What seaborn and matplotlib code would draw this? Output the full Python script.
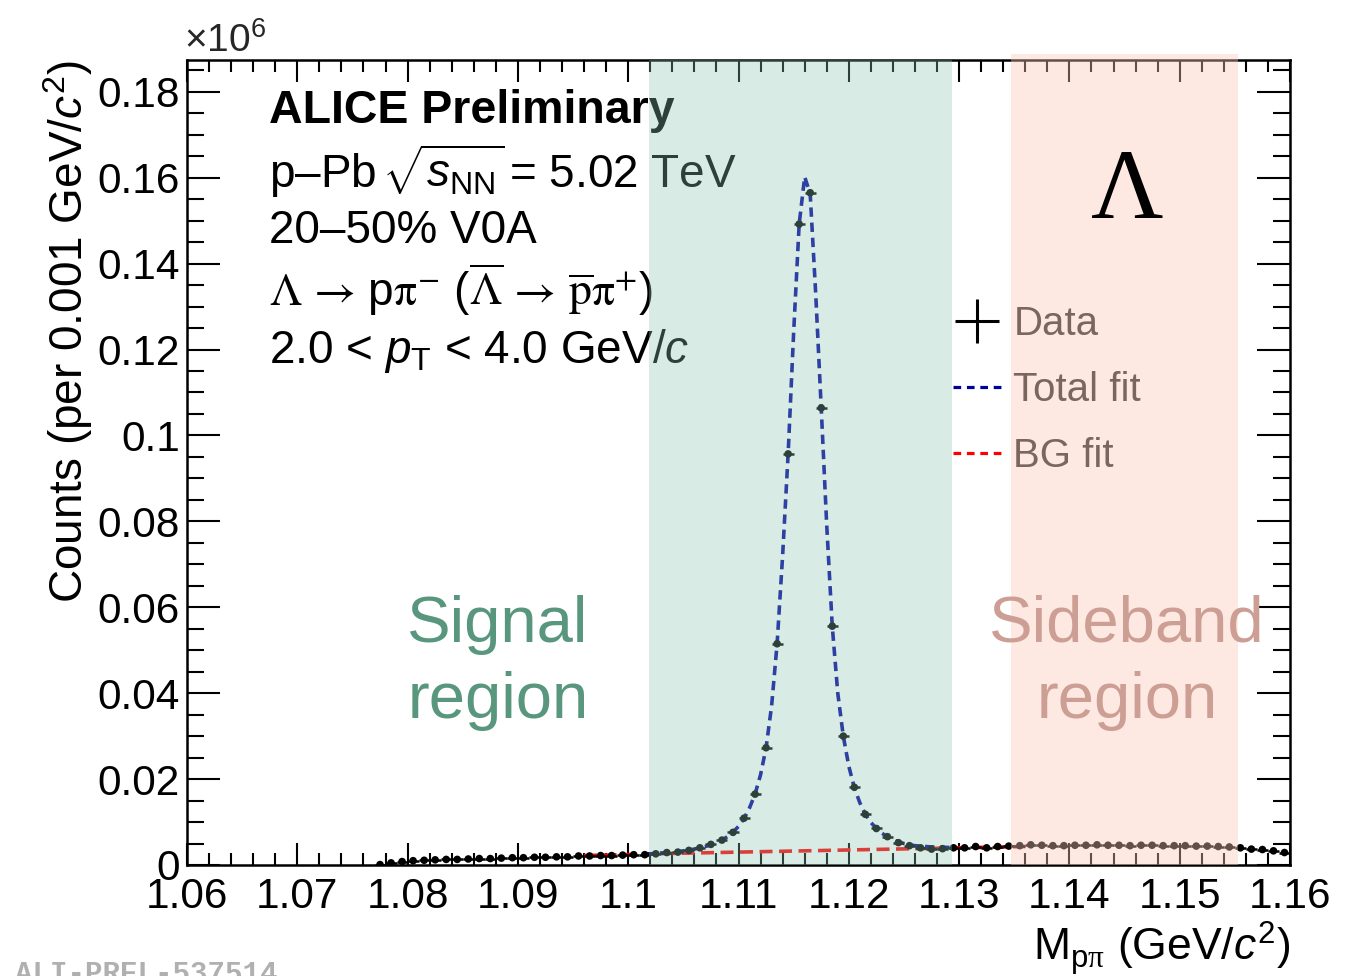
import numpy as np
import pandas as pd
import matplotlib
matplotlib.use("Agg")
import matplotlib.pyplot as plt
import seaborn as sns
from matplotlib.lines import Line2D
from matplotlib.ticker import MultipleLocator, FuncFormatter

# ---------------- data (counts in units of 10^6 per 0.001 GeV/c^2) ----------------
first_bin_center = 1.0775
bin_width = 0.001
counts = [
    0.0001, 0.0005, 0.0008, 0.0010, 0.0011, 0.0012, 0.0013, 0.0013, 0.0014, 0.0015,
    0.0015, 0.0016, 0.0017, 0.0017, 0.0018, 0.0018, 0.0019, 0.0019, 0.0021, 0.0021,
    0.0022, 0.0022, 0.0023, 0.0024, 0.0024, 0.0026, 0.0029, 0.0030, 0.0034, 0.0040,
    0.0048, 0.0058, 0.0076, 0.0109, 0.0165, 0.0273, 0.0515, 0.0957, 0.1492, 0.1565,
    0.1064, 0.0556, 0.0300, 0.0181, 0.0118, 0.0085, 0.0066, 0.0052, 0.0045, 0.0040,
    0.0037, 0.0038, 0.0040, 0.0040, 0.0043, 0.0040, 0.0043, 0.0044, 0.0045, 0.0047,
    0.0046, 0.0045, 0.0045, 0.0046, 0.0046, 0.0047, 0.0046, 0.0046, 0.0045, 0.0046,
    0.0046, 0.0045, 0.0045, 0.0045, 0.0044, 0.0044, 0.0043, 0.0042, 0.0040, 0.0037,
    0.0036, 0.0033, 0.0029,
]

total_fit_start = 1.1015
total_fit_step = 0.0005
total_fit = [
    0.0025, 0.0026, 0.0027, 0.0028, 0.0029, 0.0030, 0.0031, 0.0033, 0.0035, 0.0037,
    0.0040, 0.0043, 0.0047, 0.0052, 0.0058, 0.0066, 0.0076, 0.0090, 0.0108, 0.0133,
    0.0165, 0.0210, 0.0273, 0.0370, 0.0515, 0.0720, 0.0957, 0.1240, 0.1492, 0.1602,
    0.1562, 0.1330, 0.1064, 0.0790, 0.0556, 0.0400, 0.0300, 0.0230, 0.0180, 0.0145,
    0.0118, 0.0099, 0.0085, 0.0074, 0.0066, 0.0059, 0.0054, 0.0050, 0.0047, 0.0045,
    0.0044, 0.0043, 0.0042, 0.0042, 0.0041, 0.0041, 0.0041,
]

bg_fit_start = 1.096
bg_fit_step = 0.002
bg_fit = [
    0.0022, 0.0023, 0.0024, 0.0026, 0.0027, 0.0028, 0.0029, 0.0030, 0.0031, 0.0032,
    0.0033, 0.0034, 0.0035, 0.0036, 0.0037, 0.0038, 0.0039, 0.0040, 0.0041, 0.0042,
    0.0043,
]

signal_region = (1.1019, 1.1294)
sideband_region = (1.1347, 1.1553)

mass = np.round(first_bin_center + bin_width * np.arange(len(counts)), 4)
fit_mass = np.round(total_fit_start + total_fit_step * np.arange(len(total_fit)), 4)
bg_mass = np.round(bg_fit_start + bg_fit_step * np.arange(len(bg_fit)), 4)

df_data = pd.DataFrame({"mass": mass, "counts": counts})
df_tot = pd.DataFrame({"mass": fit_mass, "fit": total_fit})
df_bg = pd.DataFrame({"mass": bg_mass, "fit": bg_fit})

# ---------------- style ----------------
sns.set_theme(style="ticks")
plt.rcParams["font.family"] = ["Liberation Sans", "DejaVu Sans"]
plt.rcParams["mathtext.fontset"] = "custom"
plt.rcParams["mathtext.rm"] = "Liberation Sans"
plt.rcParams["mathtext.it"] = "Liberation Sans:italic"
plt.rcParams["mathtext.bf"] = "Liberation Sans:bold"
plt.rcParams["mathtext.sf"] = "Liberation Sans"
plt.rcParams["mathtext.cal"] = "Liberation Serif"

W, H = 1359, 976
fig = plt.figure(figsize=(W / 100, H / 100), dpi=100)
L, R, T, B = 187, 1290, 60, 865
ax = fig.add_axes([L / W, 1 - B / H, (R - L) / W, (B - T) / H])


def fx(px):
    return px / W


def fy(py):
    return 1 - py / H


# fits
sns.lineplot(data=df_bg, x="mass", y="fit", ax=ax, color="#ff0000", lw=2.6, zorder=3)
ax.lines[-1].set_dashes((3.6, 1.8))
sns.lineplot(data=df_tot, x="mass", y="fit", ax=ax, color="#000099", lw=2.6, zorder=3)
ax.lines[-1].set_dashes((2.6, 1.6))

# data
ax.errorbar(df_data["mass"], df_data["counts"], xerr=bin_width / 2, fmt="none",
            ecolor="black", elinewidth=1.8, capsize=0, zorder=4)
sns.scatterplot(data=df_data, x="mass", y="counts", ax=ax, color="black", s=30,
                edgecolor="none", zorder=5)

# overlays
ax.axvspan(*signal_region, ymin=0, ymax=1.0, color=(140 / 255, 197 / 255, 178 / 255),
           alpha=0.33, lw=0, zorder=10, clip_on=False)
ax.axvspan(*sideband_region, ymin=0, ymax=1.007, color=(250 / 255, 200 / 255, 183 / 255),
           alpha=0.40, lw=0, zorder=10, clip_on=False)

# axes
ax.set_xlim(1.06, 1.16)
ax.set_ylim(0, 0.1874)
ax.xaxis.set_major_locator(MultipleLocator(0.01))
ax.xaxis.set_minor_locator(MultipleLocator(0.002))
ax.yaxis.set_major_locator(MultipleLocator(0.02))
ax.yaxis.set_minor_locator(MultipleLocator(0.005))
fmt = FuncFormatter(lambda v, p: f"{round(v, 4):g}")
ax.xaxis.set_major_formatter(fmt)
ax.yaxis.set_major_formatter(fmt)
ax.tick_params(axis="both", which="both", direction="in", top=True, right=True,
               width=1.5, color="black", labelsize=30.5, labelcolor="black")
ax.tick_params(axis="x", which="major", length=16, pad=9)
ax.tick_params(axis="x", which="minor", length=8.5)
ax.tick_params(axis="y", which="major", length=24, pad=5)
ax.tick_params(axis="y", which="minor", length=12)
for s in ax.spines.values():
    s.set_linewidth(1.8)
    s.set_color("black")
    s.set_visible(True)

ax.set_xlabel(r"M$_{\mathrm{p}\mathcal{\pi}}$ (GeV/$c^{2}$)", fontsize=32, loc="right",
              labelpad=1, color="black")
ax.set_ylabel(r"Counts (per 0.001 GeV/$c^{2}$)", fontsize=33, loc="top", labelpad=2,
              color="black")

fig.text(fx(184), fy(52), r"$\times$10$^{6}$", fontsize=28, ha="left", va="baseline")

# annotations (under the overlay)
kw = dict(transform=fig.transFigure, ha="left", va="baseline", color="black",
          zorder=3, clip_on=False)
ax.text(fx(269), fy(123), "ALICE Preliminary", fontsize=33.5, fontweight="bold", **kw)
ax.text(fx(269), fy(188),
        "p\u2013Pb $\\!\\sqrt{s_{\\mathrm{NN}}}\\!$ = 5.02 TeV", fontsize=33, **kw)
ax.text(fx(269), fy(243), "20\u201350% V0A", fontsize=33, **kw)
ax.text(fx(269), fy(306),
        r"$\Lambda\,\rightarrow\,$p$\mathrm{\pi}^{-}$ "
        r"($\overline{\Lambda}\,\rightarrow\,\overline{\mathrm{p}}\mathrm{\pi}^{+}$)",
        fontsize=33, math_fontfamily="stix", **kw)
ax.text(fx(269), fy(363), r"2.0 < $p_{\mathrm{T}}$ < 4.0 GeV/$c$", fontsize=33, **kw)

# legend
handles = [
    Line2D([], [], color="black", marker="+", markersize=31, mew=2.2, linestyle="none"),
    Line2D([], [], color="#000099", lw=2.3, dashes=(2.4, 1.8)),
    Line2D([], [], color="#ff0000", lw=2.3, dashes=(2.4, 1.8)),
]
leg = ax.legend(handles, ["Data", "Total fit", "BG fit"], loc="upper left",
                bbox_to_anchor=(fx(953), fy(305)), bbox_transform=fig.transFigure,
                frameon=False, fontsize=29, handlelength=1.2, handletextpad=0.3,
                labelspacing=0.7, borderpad=0, borderaxespad=0)
leg.set_zorder(5)

# region labels and big Lambda (on top)
top_kw = dict(transform=fig.transFigure, ha="center", va="baseline", zorder=12,
              clip_on=False)
sig_col = (88 / 255, 150 / 255, 125 / 255)
sb_col = (204 / 255, 158 / 255, 148 / 255)
ax.text(fx(498), fy(642), "Signal", fontsize=47, color=sig_col, **top_kw)
ax.text(fx(498), fy(718), "region", fontsize=47, color=sig_col, **top_kw)
ax.text(fx(1127), fy(642), "Sideband", fontsize=47, color=sb_col, **top_kw)
ax.text(fx(1127), fy(718), "region", fontsize=47, color=sb_col, **top_kw)
ax.text(fx(1127), fy(218), "\u039b", fontsize=72, color="black",
        family=["Liberation Serif", "DejaVu Serif"], **top_kw)

fig.text(fx(15), fy(982), "ALI-PREL-537514", fontsize=21, fontweight="bold",
         family=["Liberation Mono", "DejaVu Sans Mono"], color="#b0b0b0",
         ha="left", va="baseline")

fig.savefig("out.png", dpi=100)
